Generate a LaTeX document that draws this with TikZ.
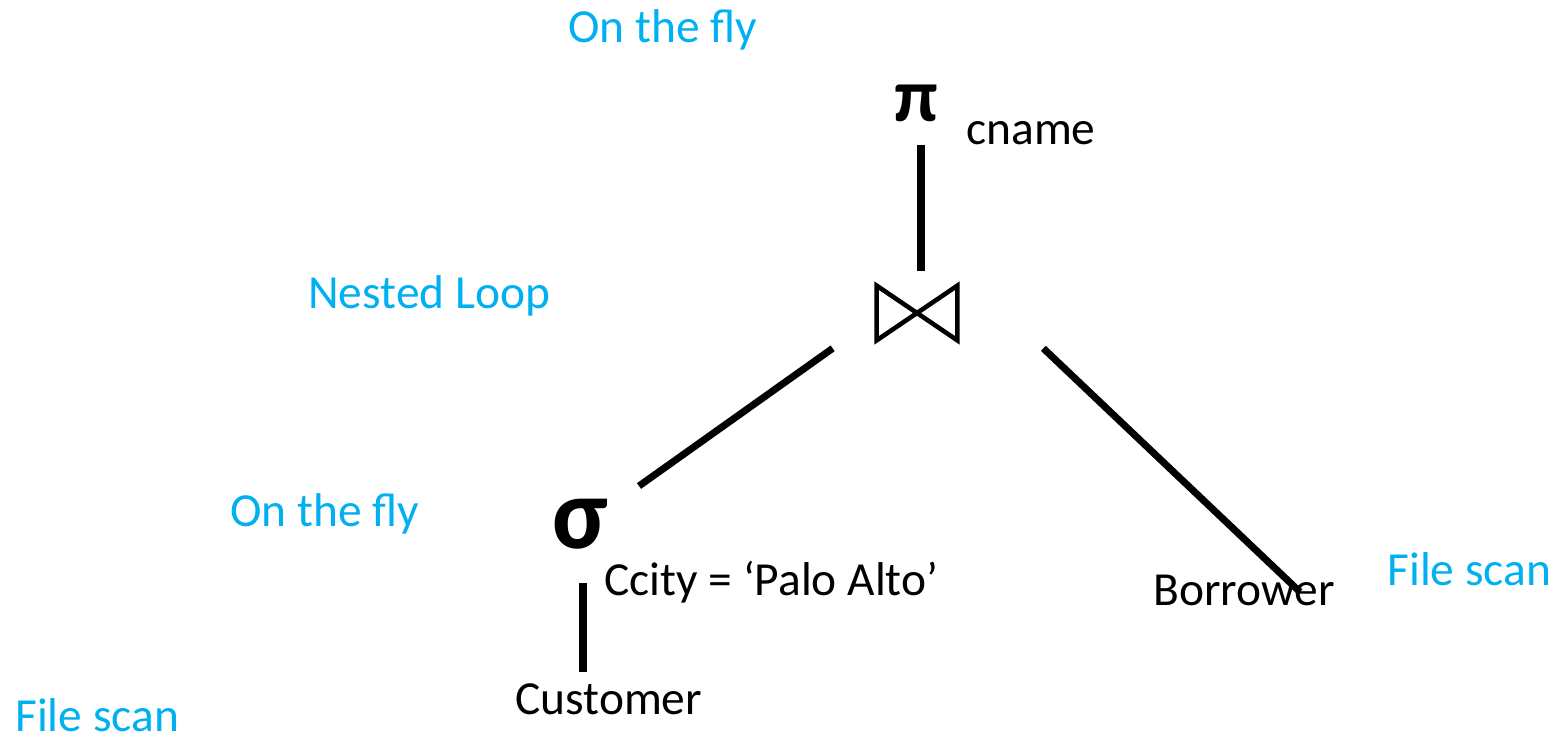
\documentclass[tikz,border=0pt]{standalone}
\usepackage{amsmath,amssymb}
\usepackage{fontspec}
\setmainfont{Carlito}
\usetikzlibrary{positioning,calc}
\definecolor{PlanBlue}{RGB}{0,176,240}
\tikzset{
  lbl/.style={font=\fontsize{27}{32}\selectfont,inner sep=0pt,anchor=base west},
  note/.style={lbl,text=PlanBlue},
  op/.style={inner sep=0pt},
  edge/.style={draw=black,line width=4pt},
  tie/.style={draw=black,line width=2.6pt,line join=miter},
}
\begin{document}
\begin{tikzpicture}[x=0.02cm,y=-0.02cm]
    \useasboundingbox (0,0) rectangle (1555,743);
    % operators of the plan
    \node[op,font=\fontsize{43}{46}\selectfont\bfseries] (pi) at (916,103) {π};
    \node[op,minimum width=1.6cm,minimum height=1.08cm] (join) at (917,313) {};
    \draw[tie] (join.north west) -- (join.south east) -- (join.north east) -- (join.south west) -- cycle;
    \node[op,font=\fontsize{58}{62}\selectfont\bfseries] (sig) at (580,524) {σ};
    \node[lbl] (cname) at (966,145) {cname};
    \node[lbl] (cond) at (604,595) {Ccity = ‘Palo Alto’};
    \node[lbl] (cust) at (515,714) {Customer};
    \node[lbl] (bor) at (1153,605) {Borrower};
    % edges
    \draw[edge] ([shift={(5,42)}]pi.center) -- ([shift={(4,-42)}]join.center);
    \draw[edge] ([shift={(-44,8)}]join.south west) -- ([shift={(59,-38)}]sig.center);
    \draw[edge] ([shift={(86,8)}]join.south east) -- ([shift={(147,-13)}]bor.base west);
    \draw[edge] ([shift={(3,59)}]sig.center) -- ([shift={(68,-42)}]cust.base west);
    % evaluation notes
    \node[note] (n1) at (568,43) {On the fly};
    \node[note] (n2) at (308,308) {Nested Loop};
    \node[note] (n3) at (230,526) {On the fly};
    \node[note] (n4) at (1387,585) {File scan};
    \node[note] (n5) at (15,731) {File scan};
\end{tikzpicture}
\end{document}
